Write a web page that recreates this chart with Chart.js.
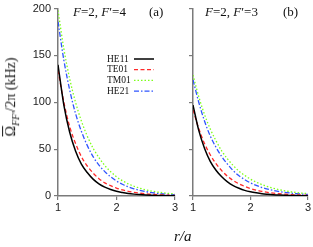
<!DOCTYPE html>
<html>
<head>
<meta charset="utf-8">
<script src="https://cdn.jsdelivr.net/npm/chart.js@4.4.1/dist/chart.umd.min.js"></script>
<style>
    html, body { margin: 0; padding: 0; background: #fff; }
    #wrap { position: relative; width: 313px; height: 247px; overflow: hidden; background: #fff; }
    canvas { position: absolute; top: 0; }
    .txt { position: absolute; white-space: nowrap; font-family: "Liberation Serif", "Times New Roman", serif; font-weight: normal; color: #111; }
    .panel-title { font-size: 13px; line-height: 15px; top: 4px; }
    #ytitle { left: 12px; top: 97px; font-size: 14px; transform: translate(-50%, -50%) rotate(-90deg); }
    #ytitle sub { font-size: 10px; font-style: italic; }
    #xtitle { left: 174px; top: 227px; font-size: 15px; line-height: 18px; font-style: italic; }
</style>
</head>
<body>
<div id="wrap">
    <canvas id="chartA" width="180" height="247" style="left:0;width:180px;height:247px"></canvas>
    <canvas id="chartB" width="133" height="247" style="left:180px;width:133px;height:247px"></canvas>
    <div class="txt panel-title" style="left:73px"><i>F</i>=2, <i>F</i>′=4</div>
    <div class="txt panel-title" style="left:149px">(a)</div>
    <div class="txt panel-title" style="left:205px"><i>F</i>=2, <i>F</i>′=3</div>
    <div class="txt panel-title" style="left:283px">(b)</div>
    <div class="txt" id="ytitle"><span style="text-decoration:overline">Ω</span><sub>FF′</sub>/2π (kHz)</div>
    <div class="txt" id="xtitle">r/a</div>
</div>
<script>
// x positions (r/a)
const rValues = [1.0, 1.1, 1.2, 1.3, 1.4, 1.5, 1.6, 1.7, 1.8, 1.9, 2.0,
                 2.1, 2.2, 2.3, 2.4, 2.5, 2.6, 2.7, 2.8, 2.9, 3.0];
const yTicks = [0, 50, 100, 150, 200];
const xTicks = [1, 2, 3];
const modeLabels = ['HE11', 'TE01', 'TM01', 'HE21'];

// panel (a): F=2, F'=4
const he11A = [140, 97, 68, 48, 34, 25, 18, 13, 9.5, 7, 5, 3.7, 2.7, 2, 1.5, 1.1, 0.8, 0.6, 0.45, 0.3, 0.2];
const te01A = [134, 100, 74, 56, 42, 32, 24.5, 18.5, 14, 11, 8.5, 6.5, 5, 3.9, 3, 2.3, 1.8, 1.4, 1.1, 0.8, 0.6];
const tm01A = [198, 157, 125, 100, 80, 64, 51, 41, 32.5, 26, 20.5, 16.3, 13, 10.4, 8.3, 6.6, 5.3, 4.2, 3.4, 2.7, 2.2];
const he21A = [186, 145, 113, 88, 69, 54, 42, 33, 26, 20.5, 16, 12.5, 9.8, 7.7, 6, 4.7, 3.7, 2.9, 2.3, 1.8, 1.4];

// panel (b): F=2, F'=3
const he11B = [97, 70, 51, 37, 27.5, 20.5, 15, 11, 8.2, 6, 4.5, 3.4, 2.5, 1.9, 1.4, 1.05, 0.8, 0.6, 0.45, 0.33, 0.25];
const te01B = [92, 72, 56, 44, 34.5, 27, 21, 16.5, 13, 10.2, 8, 6.3, 4.9, 3.8, 3, 2.4, 1.9, 1.5, 1.2, 0.9, 0.7];
const tm01B = [129, 106, 87, 71.5, 59, 48, 39.5, 32.5, 26.5, 22, 18, 14.8, 12.1, 10, 8.2, 6.7, 5.5, 4.5, 3.7, 3, 2.5];
const he21B = [124, 100, 80, 64, 52, 42, 34, 27, 21.5, 17.5, 14, 11.3, 9, 7.3, 5.9, 4.7, 3.8, 3.1, 2.5, 2, 1.6];

const AXIS_COLOR = '#7a7a7a';
const styles = [
    { borderColor: '#000000', borderWidth: 1.5, borderDash: [] },
    { borderColor: '#ff2a2a', borderWidth: 1.3, borderDash: [4, 2.5] },
    { borderColor: '#7dff1a', borderWidth: 1.3, borderDash: [1.5, 2] },
    { borderColor: '#2f55ff', borderWidth: 1.3, borderDash: [5, 2, 1.5, 2] }
];

function makeDatasets(series) {
    return series.map((vals, i) => ({
        label: modeLabels[i],
        data: vals.map((v, j) => ({ x: rValues[j], y: v })),
        borderColor: styles[i].borderColor,
        borderWidth: styles[i].borderWidth,
        borderDash: styles[i].borderDash,
        pointRadius: 0,
        fill: false,
        cubicInterpolationMode: 'monotone'
    }));
}

// legend with the line sample to the right of the text
const sideLegend = {
    id: 'sideLegend',
    afterDraw(chart) {
        const ctx = chart.ctx;
        ctx.save();
        ctx.font = '9.5px "Liberation Serif", "Times New Roman", serif';
        ctx.textBaseline = 'middle';
        ctx.fillStyle = '#111';
        chart.data.datasets.forEach((ds, i) => {
            const y = 59 + i * 10.7;
            ctx.fillText(ds.label, 107, y);
            ctx.strokeStyle = ds.borderColor;
            ctx.lineWidth = ds.borderWidth;
            ctx.setLineDash(ds.borderDash);
            ctx.beginPath();
            ctx.moveTo(134, y);
            ctx.lineTo(154, y);
            ctx.stroke();
        });
        ctx.restore();
    }
};

function makeOptions(showYLabels, yAxisWidth, padRight) {
    const tickFont = { family: '"Liberation Sans", Arial, sans-serif', size: 11, lineHeight: 1 };
    return {
        responsive: false,
        animation: false,
        layout: { padding: { left: 0, right: padRight, top: 5, bottom: 31 } },
        plugins: { legend: { display: false }, tooltip: { enabled: false } },
        scales: {
            x: {
                type: 'linear',
                min: 1,
                max: 3,
                afterBuildTicks: s => { s.ticks = xTicks.map(v => ({ value: v })); },
                afterFit: s => { s.height = 20; },
                ticks: { font: tickFont, color: '#222', padding: 2 },
                grid: { drawOnChartArea: false, tickLength: 4, color: AXIS_COLOR, lineWidth: 1.2 },
                border: { color: AXIS_COLOR, width: 1.5 }
            },
            y: {
                min: 0,
                max: 200,
                afterBuildTicks: s => { s.ticks = yTicks.map(v => ({ value: v })); },
                afterFit: s => { s.width = yAxisWidth; },
                ticks: {
                    font: tickFont,
                    color: '#222',
                    padding: 3,
                    callback: v => showYLabels ? v : ''
                },
                grid: { drawOnChartArea: false, tickLength: 4, color: AXIS_COLOR, lineWidth: 1.2 },
                border: { color: AXIS_COLOR, width: 1.5 }
            }
        }
    };
}

new Chart(document.getElementById('chartA'), {
    type: 'line',
    data: { datasets: makeDatasets([he11A, te01A, tm01A, he21A]) },
    options: makeOptions(true, 58, 4),
    plugins: [sideLegend]
});

new Chart(document.getElementById('chartB'), {
    type: 'line',
    data: { datasets: makeDatasets([he11B, te01B, tm01B, he21B]) },
    options: makeOptions(false, 13, 3)
});
</script>
</body>
</html>
